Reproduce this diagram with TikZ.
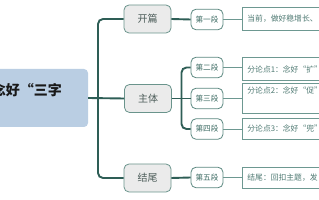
\documentclass[tikz,border=0pt]{standalone}
\usepackage{fontspec}
\setmainfont{Noto Sans CJK SC}
\definecolor{trunkc}{HTML}{2E5E56}
\definecolor{lonebd}{HTML}{6A948C}
\definecolor{lonefill}{HTML}{EBEBEB}
\definecolor{lonetxt}{HTML}{4D5D5A}
\definecolor{ltwobd}{HTML}{5B8880}
\definecolor{ltwotxt}{HTML}{3B6A62}
\definecolor{tbbd}{HTML}{6D9891}
\definecolor{tbtxt}{HTML}{4F7A73}
\definecolor{rootfill}{HTML}{BACEE3}
\tikzset{
  rootbox/.style={fill=rootfill, rounded corners=4pt, inner sep=0, minimum width=108pt, minimum height=58pt},
  roottxt/.style={inner sep=0, font=\fontsize{14}{16}\selectfont\bfseries, text=black!90},
  lone/.style={draw=lonebd, fill=lonefill, line width=0.8pt, rounded corners=5pt, minimum width=47pt, minimum height=28pt, inner sep=0, text=lonetxt, font=\fontsize{10}{12}\selectfont},
  ltwo/.style={draw=ltwobd, fill=white, line width=0.8pt, rounded corners=5pt, minimum width=32pt, minimum height=20.5pt, inner sep=0, text=ltwotxt, font=\fontsize{7.6}{9}\selectfont},
  tbox/.style={draw=tbbd, fill=white, line width=0.8pt, anchor=west, text width=82pt, inner xsep=5pt, inner ysep=0pt, align=left, text=tbtxt, font=\fontsize{7.8}{9}\selectfont},
  trunk/.style={draw=trunkc, line width=1.9pt, rounded corners=5pt},
  thin/.style={draw=tbbd, line width=0.8pt}
}
\begin{document}
\begin{tikzpicture}[x=1pt,y=-1pt]
\useasboundingbox (0,0) rectangle (319,200);
\clip (0,0) rectangle (319,200);
% root
\node[rootbox] (root) at (34,98) {};
\node[roottxt, anchor=east] (roottext) at (62,90.5) {念好“三字};
% level 1
\node[lone] (kp) at (147.5,19) {开篇};
\node[lone] (zt) at (148,98.5) {主体};
\node[lone] (jw) at (147.5,178) {结尾};
% level 2
\node[ltwo] (d1) at (207,19.5) {第一段};
\node[ltwo] (d2) at (207,67.5) {第二段};
\node[ltwo] (d3) at (207,98.5) {第三段};
\node[ltwo] (d4) at (207,129) {第四段};
\node[ltwo] (d5) at (207,177.5) {第五段};
% text boxes
\node[tbox, minimum height=23pt] (t1) at (242,18.5) {当前，做好稳增长、};
\node[tbox, minimum height=23pt] (t2) at (242,69) {分论点1：念好“扩”};
\node[tbox, text height=7pt, text depth=15pt, inner ysep=4pt] (t3) at (242,98) {分论点2：念好“促”};
\node[tbox, minimum height=21pt] (t4) at (242,128.5) {分论点3：念好“兜”};
\node[tbox, minimum height=21pt] (t5) at (242,177.5) {结尾：回扣主题，发};
% trunk connectors
\coordinate (ja) at (98,98);
\draw[trunk] (root.east) -- (zt.west);
\draw[trunk] (ja) |- (kp.west);
\draw[trunk] (ja) |- (jw.west);
\draw[trunk] (kp.east) -- (d1.west);
\draw[trunk] (jw.east) -- (d5.west);
\coordinate (jb) at (181.5,98.5);
\draw[trunk] (zt.east) -- (d3.west);
\draw[trunk] (jb) |- (d2.west);
\draw[trunk] (jb) |- (d4.west);
% thin connectors
\draw[thin] (d1.east) -- (d1.east -| t1.west);
\draw[thin] (d2.east) -- (d2.east -| t2.west);
\draw[thin] (d3.east) -- (d3.east -| t3.west);
\draw[thin] (d4.east) -- (d4.east -| t4.west);
\draw[thin] (d5.east) -- (d5.east -| t5.west);
\end{tikzpicture}
\end{document}
